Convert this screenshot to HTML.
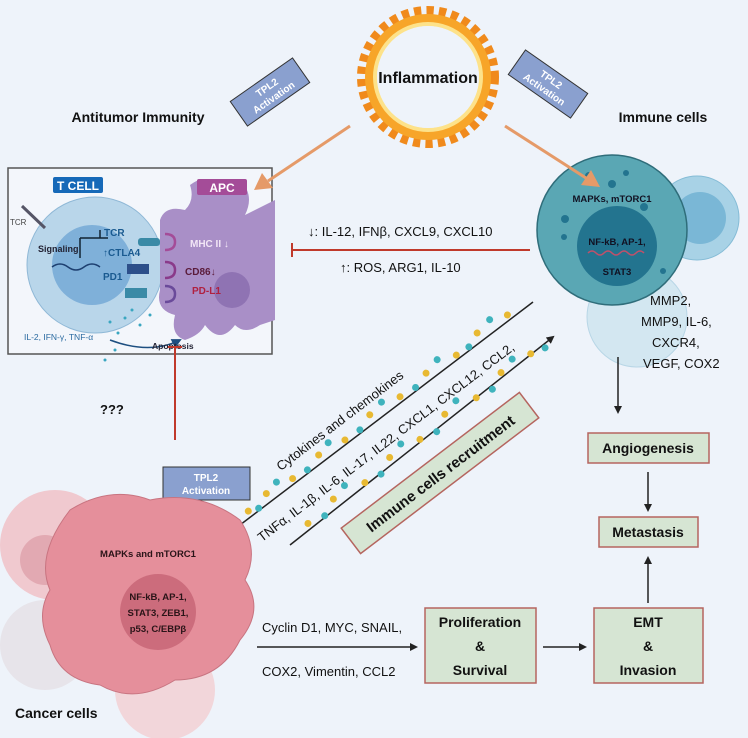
<!DOCTYPE html>
<html><head><meta charset="utf-8"><style>
body{margin:0;background:#eef3fa}
svg{display:block;font-family:"Liberation Sans",sans-serif}
</style></head><body>
<svg width="748" height="738" viewBox="0 0 748 738" xmlns="http://www.w3.org/2000/svg">
<defs>
<marker id="ah" markerWidth="8" markerHeight="8" refX="6" refY="4" orient="auto" markerUnits="userSpaceOnUse"><path d="M0,0 L8,4 L0,8 Z" fill="#222"/></marker>
<marker id="ab" markerWidth="10" markerHeight="10" refX="8" refY="5" orient="auto" markerUnits="userSpaceOnUse"><path d="M0,0 L10,5 L0,10 Z" fill="#1d4f80"/></marker>
</defs>
<rect width="748" height="738" fill="#eef3fa"/>

<!-- Inflammation ring -->
<circle cx="428" cy="77" r="64" fill="none" stroke="#f08a1c" stroke-width="14" stroke-dasharray="7 5"/>
<circle cx="428" cy="77" r="58" fill="none" stroke="#f7a529" stroke-width="10"/>
<circle cx="428" cy="77" r="53" fill="none" stroke="#fde28a" stroke-width="4"/>
<circle cx="428" cy="77" r="51" fill="#eef3fa"/>
<text x="428" y="83" text-anchor="middle" font-size="16" font-weight="bold" fill="#111">Inflammation</text>

<!-- TPL2 rotated boxes -->
<g transform="translate(270,92) rotate(-35)">
<rect x="-38" y="-15" width="76" height="30" fill="#8aa0cf" stroke="#333" stroke-width="1"/>
<text x="0" y="-2" text-anchor="middle" font-size="10" font-weight="bold" fill="#fff">TPL2</text>
<text x="0" y="10" text-anchor="middle" font-size="10" font-weight="bold" fill="#fff">Activation</text></g>
<g transform="translate(548,84) rotate(35)">
<rect x="-38" y="-15" width="76" height="30" fill="#8aa0cf" stroke="#333" stroke-width="1"/>
<text x="0" y="-2" text-anchor="middle" font-size="10" font-weight="bold" fill="#fff">TPL2</text>
<text x="0" y="10" text-anchor="middle" font-size="10" font-weight="bold" fill="#fff">Activation</text></g>

<text x="138" y="122" text-anchor="middle" font-size="14" font-weight="bold" fill="#111">Antitumor Immunity</text>
<text x="663" y="122" text-anchor="middle" font-size="14" font-weight="bold" fill="#111">Immune cells</text>

<!-- T cell / APC box -->
<rect x="8" y="168" width="264" height="186" fill="#f3f6fb" stroke="#555" stroke-width="1.5"/>
<circle cx="95" cy="265" r="68" fill="#b9d6ea" stroke="#8fb8d6"/>
<circle cx="92" cy="265" r="40" fill="#7fb0d9"/>
<path d="M245,215 q10,-20 -5,-35 q-15,-5 -20,15 q-10,-25 -30,-10 q5,15 -5,25 q-20,-5 -25,10 l0,70 q-5,20 15,25 q-5,20 10,25 q15,-5 20,-15 q15,20 30,0 q10,10 25,0 l15,-5 l0,-120 z" fill="#a98fc7"/>
<circle cx="232" cy="290" r="18" fill="#8f73b3"/>
<rect x="53" y="177" width="50" height="16" rx="2" fill="#1669b8"/>
<text x="78" y="190" text-anchor="middle" font-size="12" font-weight="bold" fill="#fff">T CELL</text>
<rect x="197" y="179" width="50" height="16" rx="2" fill="#a44c98"/>
<text x="222" y="192" text-anchor="middle" font-size="12" font-weight="bold" fill="#fff">APC</text>
<line x1="22" y1="206" x2="45" y2="228" stroke="#556" stroke-width="3"/>
<text x="10" y="225" font-size="8" fill="#444">TCR</text>
<text x="38" y="252" font-size="9" font-weight="bold" fill="#223">Signaling</text>
<path d="M100,238 v-8 M80,238 h28 M80,238 v20" stroke="#123" stroke-width="1.5" fill="none"/>
<text x="104" y="236" font-size="10" font-weight="bold" fill="#1a5a90">TCR</text>
<text x="103" y="256" font-size="10" font-weight="bold" fill="#1a5a90">↑CTLA4</text>
<text x="103" y="280" font-size="10" font-weight="bold" fill="#1a5a90">PD1</text>
<path d="M52,267 q8,-6 16,0 t16,0 t16,0" stroke="#1d3f70" stroke-width="1.5" fill="none"/>
<rect x="138" y="238" width="22" height="8" rx="3" fill="#3a8aa6"/>
<rect x="127" y="264" width="22" height="10" fill="#2d4f8a"/>
<rect x="125" y="288" width="22" height="10" fill="#3a8aa6"/>
<path d="M165,234 q10,0 10,8 q0,8 -10,8" stroke="#a44c98" stroke-width="2.5" fill="none"/>
<path d="M165,262 q10,0 10,8 q0,8 -10,8" stroke="#8a3a8a" stroke-width="2.5" fill="none"/>
<path d="M165,286 q10,0 10,8 q0,8 -10,8" stroke="#6a4a9a" stroke-width="2.5" fill="none"/>
<text x="190" y="247" font-size="10" font-weight="bold" fill="#f2e6f6">MHC II ↓</text>
<text x="185" y="275" font-size="10" font-weight="bold" fill="#5a1b3a">CD86↓</text>
<text x="192" y="294" font-size="10" font-weight="bold" fill="#b02040">PD-L1</text>
<text x="24" y="340" font-size="8.5" fill="#2a6aa0">IL-2, IFN-γ, TNF-α</text>
<path d="M110,340 q40,15 70,0" stroke="#1d4f80" stroke-width="1.5" fill="none" marker-end="url(#ab)"/>
<text x="152" y="349" font-size="8.5" font-weight="bold" fill="#223">Apoptosis</text>
<g fill="#3aa6c0"><circle cx="110" cy="322" r="1.5"/><circle cx="125" cy="318" r="1.5"/><circle cx="140" cy="325" r="1.5"/><circle cx="118" cy="333" r="1.5"/><circle cx="150" cy="315" r="1.5"/><circle cx="132" cy="310" r="1.5"/><circle cx="115" cy="350" r="1.5"/><circle cx="105" cy="360" r="1.5"/></g>

<!-- Middle text -->
<text x="308" y="236" font-size="13" fill="#111"><tspan font-weight="bold">↓</tspan>: IL-12, IFNβ, CXCL9, CXCL10</text>
<line x1="292" y1="250" x2="530" y2="250" stroke="#c0392b" stroke-width="2"/>
<line x1="292" y1="243" x2="292" y2="257" stroke="#c0392b" stroke-width="2"/>
<text x="340" y="272" font-size="13" fill="#111"><tspan font-weight="bold">↑</tspan>: ROS, ARG1, IL-10</text>

<!-- Immune cells -->
<circle cx="637" cy="317" r="50" fill="#d3e7f1" stroke="#b8d6e6"/>
<circle cx="697" cy="218" r="42" fill="#a8d2e6" stroke="#85bcd6"/>
<circle cx="700" cy="218" r="26" fill="#7ab7d6"/>
<circle cx="612" cy="230" r="75" fill="#5aa7b4" stroke="#2f6d7a" stroke-width="1.5"/>
<circle cx="617" cy="246" r="40" fill="#23748f"/>
<g fill="#23748f"><circle cx="589" cy="176" r="4"/><circle cx="612" cy="184" r="4"/><circle cx="626" cy="173" r="3"/><circle cx="565" cy="219" r="4"/><circle cx="564" cy="237" r="3"/><circle cx="644" cy="207" r="4"/><circle cx="663" cy="271" r="3"/></g>
<text x="612" y="202" text-anchor="middle" font-size="9.5" font-weight="bold" fill="#112">MAPKs, mTORC1</text>
<text x="617" y="245" text-anchor="middle" font-size="9.5" font-weight="bold" fill="#112">NF-kB, AP-1,</text>
<path d="M588,253 q4,-4 8,0 t8,0 t8,0 t8,0 t8,0 t8,0 t8,0" stroke="#c0506a" stroke-width="1.5" fill="none"/>
<text x="617" y="275" text-anchor="middle" font-size="9.5" font-weight="bold" fill="#112">STAT3</text>

<!-- orange arrows (drawn on top) -->
<line x1="350" y1="126" x2="268" y2="181" stroke="#e59a68" stroke-width="3"/>
<polygon points="254,190 262,173 273,188" fill="#e59a68"/>
<line x1="505" y1="126" x2="586" y2="178" stroke="#e59a68" stroke-width="3"/>
<polygon points="600,187 581,185 591,170" fill="#e59a68"/>

<!-- right factors -->
<g font-size="13" fill="#111">
<text x="650" y="305">MMP2,</text><text x="641" y="326">MMP9, IL-6,</text><text x="652" y="347">CXCR4,</text><text x="643" y="368">VEGF, COX2</text></g>
<line x1="618" y1="357" x2="618" y2="412" stroke="#222" stroke-width="1.5" marker-end="url(#ah)"/>

<!-- boxes -->
<g fill="#d6e5d3" stroke="#b5655f" stroke-width="1.5">
<rect x="588" y="433" width="121" height="30"/>
<rect x="599" y="517" width="99" height="30"/>
<rect x="425" y="608" width="111" height="75"/>
<rect x="594" y="608" width="109" height="75"/></g>
<g font-size="14" font-weight="bold" fill="#111" text-anchor="middle">
<text x="648" y="453">Angiogenesis</text>
<text x="648" y="537">Metastasis</text>
<text x="480" y="627">Proliferation</text><text x="480" y="651">&amp;</text><text x="480" y="675">Survival</text>
<text x="648" y="627">EMT</text><text x="648" y="651">&amp;</text><text x="648" y="675">Invasion</text></g>
<line x1="648" y1="472" x2="648" y2="510" stroke="#222" stroke-width="1.5" marker-end="url(#ah)"/>
<line x1="648" y1="603" x2="648" y2="558" stroke="#222" stroke-width="1.5" marker-end="url(#ah)"/>
<line x1="543" y1="647" x2="585" y2="647" stroke="#222" stroke-width="1.5" marker-end="url(#ah)"/>
<line x1="257" y1="647" x2="416" y2="647" stroke="#222" stroke-width="1.5" marker-end="url(#ah)"/>
<text x="262" y="632" font-size="13" fill="#111">Cyclin D1, MYC, SNAIL,</text>
<text x="262" y="676" font-size="13" fill="#111">COX2,   Vimentin, CCL2</text>

<!-- ??? and inhibition -->
<text x="100" y="414" font-size="13" font-weight="bold" fill="#111">???</text>
<line x1="175" y1="440" x2="175" y2="347" stroke="#c0392b" stroke-width="2"/>
<line x1="168" y1="347" x2="182" y2="347" stroke="#c0392b" stroke-width="2"/>
<rect x="163" y="467" width="87" height="33" fill="#8aa0cf" stroke="#333"/>
<text x="206" y="481" text-anchor="middle" font-size="10" font-weight="bold" fill="#fff">TPL2</text>
<text x="206" y="494" text-anchor="middle" font-size="10" font-weight="bold" fill="#fff">Activation</text>

<!-- cytokine lines -->
<line x1="533" y1="302" x2="236" y2="528" stroke="#222" stroke-width="1.5" marker-end="url(#ah)"/>
<line x1="290" y1="545" x2="553" y2="337" stroke="#222" stroke-width="1.5" marker-end="url(#ah)"/>
<g transform="translate(236,528) rotate(-37.3)">
<g fill="#e8b932"><circle cx="20" cy="-6" r="3.5"/><circle cx="45" cy="-9" r="3.5"/><circle cx="75" cy="-5" r="3.5"/><circle cx="110" cy="-8" r="3.5"/><circle cx="140" cy="-4" r="3.5"/><circle cx="175" cy="-9" r="3.5"/><circle cx="210" cy="-5" r="3.5"/><circle cx="245" cy="-8" r="3.5"/><circle cx="280" cy="-4" r="3.5"/><circle cx="310" cy="-9" r="3.5"/><circle cx="345" cy="-5" r="3.5"/>
<circle cx="60" cy="40" r="3.5"/><circle cx="95" cy="36" r="3.5"/><circle cx="130" cy="42" r="3.5"/><circle cx="165" cy="37" r="3.5"/><circle cx="200" cy="41" r="3.5"/><circle cx="235" cy="36" r="3.5"/><circle cx="270" cy="42" r="3.5"/><circle cx="305" cy="37" r="3.5"/><circle cx="340" cy="40" r="3.5"/></g>
<g fill="#3fb3bd"><circle cx="30" cy="-2" r="3.5"/><circle cx="60" cy="-12" r="3.5"/><circle cx="92" cy="-3" r="3.5"/><circle cx="125" cy="-12" r="3.5"/><circle cx="158" cy="-3" r="3.5"/><circle cx="192" cy="-12" r="3.5"/><circle cx="228" cy="-3" r="3.5"/><circle cx="262" cy="-12" r="3.5"/><circle cx="295" cy="-3" r="3.5"/><circle cx="328" cy="-12" r="3.5"/>
<circle cx="78" cy="44" r="3.5"/><circle cx="112" cy="32" r="3.5"/><circle cx="148" cy="45" r="3.5"/><circle cx="182" cy="33" r="3.5"/><circle cx="218" cy="45" r="3.5"/><circle cx="252" cy="32" r="3.5"/><circle cx="288" cy="45" r="3.5"/><circle cx="322" cy="33" r="3.5"/><circle cx="355" cy="44" r="3.5"/></g>
<text x="70" y="-18" font-size="13" fill="#111">Cytokines and chemokines</text>
<text x="12" y="27" font-size="13" fill="#111">TNFα, IL-1β, IL-6, IL-17, IL22, CXCL1, CXCL12, CCL2,</text>
</g>
<g transform="translate(440,473) rotate(-37.3)">
<rect x="-112" y="-16" width="224" height="32" fill="#d6e5d3" stroke="#b5655f" stroke-width="1.5"/>
<text x="0" y="6" text-anchor="middle" font-size="15" font-weight="bold" fill="#111">Immune cells recruitment</text></g>

<!-- Cancer cells -->
<circle cx="55" cy="545" r="55" fill="#f0c9cf"/>
<circle cx="45" cy="560" r="25" fill="#e2a9b2"/>
<circle cx="45" cy="645" r="45" fill="#e7e4ea"/>
<circle cx="165" cy="690" r="50" fill="#f2d6da"/>
<path d="M70,510 q40,-25 80,-10 q50,-10 90,20 q20,30 5,60 q20,30 -5,60 q-20,40 -65,40 q-40,25 -75,5 q-40,-5 -50,-40 q-15,-30 0,-55 q-15,-35 20,-80 z" fill="#e58f9b" stroke="#c87480"/>
<circle cx="158" cy="612" r="38" fill="#cc6c7c"/>
<text x="148" y="557" text-anchor="middle" font-size="9.5" font-weight="bold" fill="#2a1418">MAPKs and mTORC1</text>
<g text-anchor="middle" font-size="9.5" font-weight="bold" fill="#2a1418">
<text x="158" y="600">NF-kB, AP-1,</text><text x="158" y="616">STAT3, ZEB1,</text><text x="158" y="632">p53, C/EBPβ</text></g>
<text x="15" y="718" font-size="14" font-weight="bold" fill="#111">Cancer cells</text>
</svg>
</body></html>
